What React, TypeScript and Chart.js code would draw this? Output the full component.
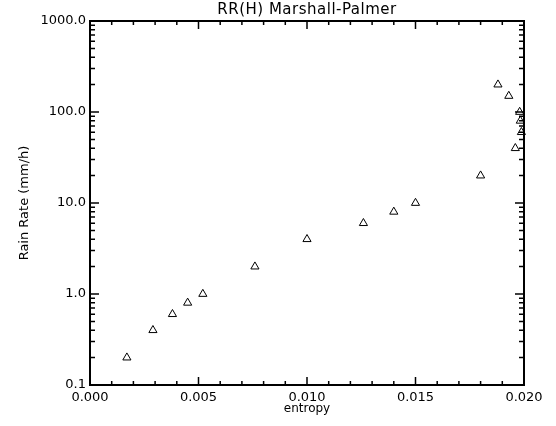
import React, { useEffect, useRef } from "react";
import { Chart, registerables } from "chart.js";

Chart.register(...registerables);

const entropy = [0.0017, 0.0029, 0.0038, 0.0045, 0.0052, 0.0076, 0.0100, 0.0126, 0.0140, 0.0150, 0.0180, 0.0188, 0.0193, 0.0196, 0.0198, 0.01983, 0.01988];
const rainRate = [0.2, 0.4, 0.6, 0.8, 1.0, 2.0, 4.0, 6.0, 8.0, 10.0, 20.0, 200, 150, 40, 100, 80, 60];

const xMajorTicks = [0, 0.005, 0.01, 0.015, 0.02];
const xMinorTicks = [0.001, 0.002, 0.003, 0.004, 0.006, 0.007, 0.008, 0.009, 0.011, 0.012, 0.013, 0.014, 0.016, 0.017, 0.018, 0.019];
const yMajorTicks = [0.1, 1, 10, 100, 1000];
const yMinorMultipliers = [2, 3, 4, 5, 6, 7, 8, 9];

const titleText = "RR(H) Marshall-Palmer";
const xTitle = "entropy";
const yTitle = "Rain Rate (mm/h)";

const FONT = "'DejaVu Sans', sans-serif";

const plotTitle = {
  id: "plotTitle",
  afterDraw(chart: any) {
    const { ctx, chartArea } = chart;
    ctx.save();
    ctx.fillStyle = "#000";
    ctx.font = `15px ${FONT}`;
    (ctx as any).letterSpacing = "0.5px";
    ctx.textAlign = "center";
    ctx.textBaseline = "middle";
    ctx.fillText(titleText, (chartArea.left + chartArea.right) / 2, 10.5);
    ctx.restore();
  },
};

const frameTicks = {
  id: "frameTicks",
  afterDraw(chart: any) {
    const { ctx, chartArea, scales } = chart;
    const { left, right, top, bottom } = chartArea;
    const xs = scales.x;
    const ys = scales.y;
    ctx.save();
    ctx.strokeStyle = "#000";
    ctx.lineWidth = 2;
    ctx.strokeRect(left, top, right - left, bottom - top);
    ctx.lineWidth = 1.5;
    const xMajLen = 8, xMinLen = 4, yMajLen = 9, yMinLen = 5;
    ctx.beginPath();
    const vx = (v: number, len: number) => {
      const px = xs.getPixelForValue(v);
      ctx.moveTo(px, bottom);
      ctx.lineTo(px, bottom - len);
      ctx.moveTo(px, top);
      ctx.lineTo(px, top + len);
    };
    xMajorTicks.forEach((v) => vx(v, xMajLen));
    xMinorTicks.forEach((v) => vx(v, xMinLen));
    const vy = (v: number, len: number) => {
      const py = ys.getPixelForValue(v);
      ctx.moveTo(left, py);
      ctx.lineTo(left + len, py);
      ctx.moveTo(right, py);
      ctx.lineTo(right - len, py);
    };
    yMajorTicks.forEach((v) => vy(v, yMajLen));
    yMajorTicks.slice(0, -1).forEach((d) => yMinorMultipliers.forEach((m) => vy(d * m, yMinLen)));
    ctx.stroke();
    ctx.restore();
  },
};

export default function App() {
  const ref = useRef<HTMLCanvasElement | null>(null);
  useEffect(() => {
    document.body.style.margin = "0";
    const canvas = ref.current;
    if (!canvas) return;
    const chart = new Chart(canvas, {
      type: "scatter",
      data: {
        datasets: [
          {
            data: entropy.map((x, i) => ({ x, y: rainRate[i] })),
            pointStyle: "triangle",
            pointRadius: 4.7,
            pointBorderWidth: 1,
            pointBorderColor: "#000",
            pointBackgroundColor: "rgba(0,0,0,0)",
            showLine: false,
            clip: false,
          } as any,
        ],
      },
      options: {
        responsive: false,
        animation: false,
        devicePixelRatio: 1,
        layout: { padding: { left: 0, right: 32, top: 21, bottom: 0 } },
        plugins: {
          legend: { display: false },
          tooltip: { enabled: false },
          title: { display: false },
        },
        scales: {
          x: {
            type: "linear",
            min: 0,
            max: 0.02,
            afterBuildTicks: (s: any) => {
              s.ticks = xMajorTicks.map((v) => ({ value: v }));
            },
            afterFit: (s: any) => {
              s.height = 41;
            },
            ticks: {
              color: "#000",
              font: { family: FONT, size: 13 },
              padding: 5,
              maxRotation: 0,
              autoSkip: false,
              callback: (v: any) => Number(v).toFixed(3),
            },
            grid: { display: false, drawTicks: false },
            border: { display: false },
            title: {
              display: true,
              text: xTitle,
              color: "#000",
              font: { family: FONT, size: 12 },
              padding: { top: 0, bottom: 10 },
            },
          },
          y: {
            type: "logarithmic",
            min: 0.1,
            max: 1000,
            afterBuildTicks: (s: any) => {
              s.ticks = yMajorTicks.map((v) => ({ value: v, major: true }));
            },
            afterFit: (s: any) => {
              s.width = 90;
            },
            ticks: {
              color: "#000",
              font: { family: FONT, size: 13 },
              padding: 4,
              autoSkip: false,
              callback: (v: any) => Number(v).toFixed(1),
            },
            grid: { display: false, drawTicks: false },
            border: { display: false },
            title: {
              display: true,
              text: yTitle,
              color: "#000",
              font: { family: FONT, size: 13 },
              padding: { top: 17, bottom: 0 },
            },
          },
        },
      },
      plugins: [frameTicks, plotTitle],
    });
    return () => chart.destroy();
  }, []);
  return (
    <div style={{ width: 556, height: 426, background: "#fff" }}>
      <canvas ref={ref} width={556} height={426} style={{ display: "block" }} />
    </div>
  );
}
